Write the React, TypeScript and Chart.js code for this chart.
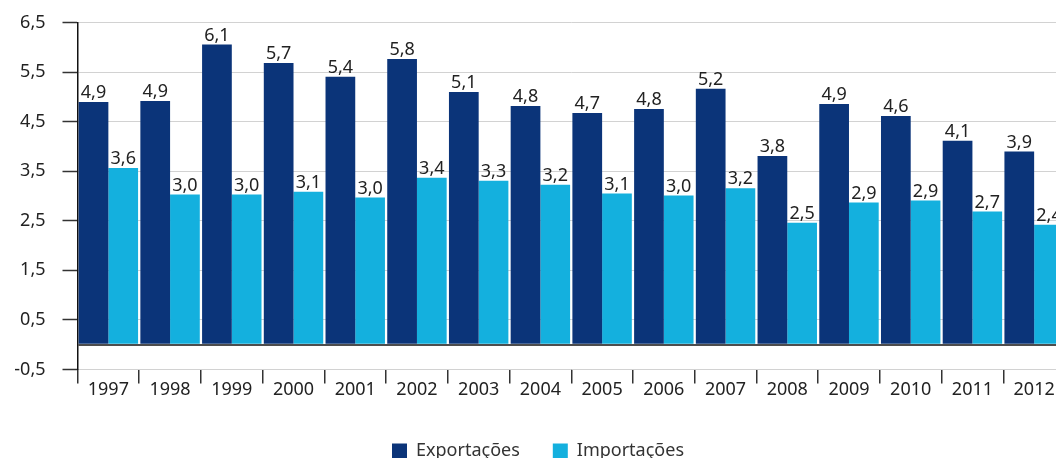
import React, { useEffect, useRef } from 'react';
import { Chart, registerables } from 'chart.js';

Chart.register(...registerables);

const years = ['1997', '1998', '1999', '2000', '2001', '2002', '2003', '2004', '2005', '2006', '2007', '2008', '2009', '2010', '2011', '2012'];
const exportacoes = [4.9, 4.92, 6.06, 5.69, 5.41, 5.77, 5.1, 4.82, 4.68, 4.76, 5.17, 3.81, 4.86, 4.62, 4.12, 3.9];
const importacoes = [3.57, 3.03, 3.03, 3.09, 2.97, 3.37, 3.31, 3.23, 3.05, 3.01, 3.16, 2.46, 2.87, 2.91, 2.69, 2.42];
const yMin = -0.5;
const yMax = 6.5;
const yStep = 0.5;

const FONT = '"Noto Sans", "DejaVu Sans", sans-serif';
const DARK = '#0b3479';
const CYAN = '#14b0de';

const fmt = (v: number) => (Math.round(v * 10 + 1e-9) / 10).toFixed(1).replace('.', ',');
const isHalf = (v: number) => Math.abs(Math.round(v * 2)) % 2 === 1;

const valueLabels = {
  id: 'valueLabels',
  afterDatasetsDraw(chart: any) {
    const { ctx } = chart;
    ctx.save();
    ctx.font = `18px ${FONT}`;
    ctx.fillStyle = '#222222';
    ctx.textAlign = 'center';
    ctx.textBaseline = 'bottom';
    chart.data.datasets.forEach((ds: any, di: number) => {
      const meta = chart.getDatasetMeta(di);
      meta.data.forEach((el: any, i: number) => {
        ctx.fillText(fmt(ds.data[i]), el.x, el.y);
      });
    });
    ctx.restore();
  },
};

export default function App() {
  const ref = useRef<HTMLCanvasElement | null>(null);

  useEffect(() => {
    if (!ref.current) return;
    const chart = new Chart(ref.current, {
      type: 'bar',
      data: {
        labels: years,
        datasets: [
          { label: 'Exportações', data: exportacoes, backgroundColor: DARK, borderWidth: 0, categoryPercentage: 0.963, barPercentage: 1 },
          { label: 'Importações', data: importacoes, backgroundColor: CYAN, borderWidth: 0, categoryPercentage: 0.963, barPercentage: 1 },
        ],
      },
      options: {
        animation: false,
        responsive: false,
        maintainAspectRatio: false,
        layout: { padding: { top: 0, left: 0, right: 0, bottom: 0 } },
        plugins: {
          tooltip: { enabled: false },
          title: { display: false },
          legend: {
            position: 'bottom',
            labels: {
              boxWidth: 15,
              boxHeight: 15,
              padding: 33,
              color: '#333333',
              font: { family: FONT, size: 18 },
            },
          },
        },
        scales: {
          x: {
            offset: true,
            afterFit: (s: any) => {
              s.height += 12;
            },
            grid: {
              offset: true,
              drawOnChartArea: false,
              drawTicks: true,
              tickLength: 14,
              color: '#333333',
              lineWidth: 1.5,
            },
            border: { display: false },
            ticks: {
              color: '#222222',
              font: { family: FONT, size: 18 },
              padding: -4,
              maxRotation: 0,
              autoSkip: false,
            },
          },
          y: {
            min: yMin,
            max: yMax,
            afterFit: (s: any) => {
              s.width = 77.5;
            },
            ticks: {
              stepSize: yStep,
              color: '#222222',
              font: { family: FONT, size: 18 },
              padding: 17,
              callback: (v: any) => (isHalf(Number(v)) ? fmt(Number(v)) : ''),
            },
            grid: {
              color: (c: any) => {
                const v = c.tick ? c.tick.value : NaN;
                if (v === 0) return '#4d4d4d';
                if (isHalf(v)) return '#d2d2d2';
                return 'rgba(0,0,0,0)';
              },
              lineWidth: (c: any) => (c.tick && c.tick.value === 0 ? 2 : 1),
              tickColor: (c: any) => (c.tick && isHalf(c.tick.value) ? '#333333' : 'rgba(0,0,0,0)'),
              tickLength: 15,
              tickWidth: 1.5,
            },
            border: { display: true, color: '#111111', width: 1.5 },
          },
          y2: {
            position: 'right',
            display: true,
            afterFit: (s: any) => {
              s.width = 11;
            },
            grid: { display: false },
            border: { display: false },
            ticks: { display: false },
          },
        },
      },
      plugins: [valueLabels],
    });
    return () => chart.destroy();
  }, []);

  return (
    <div style={{ position: 'absolute', left: 0, top: 0, width: 1056, height: 458, overflow: 'hidden', background: '#fff' }}>
      <canvas ref={ref} width={1076} height={475} style={{ display: 'block', position: 'relative', top: -5 }} />
    </div>
  );
}
